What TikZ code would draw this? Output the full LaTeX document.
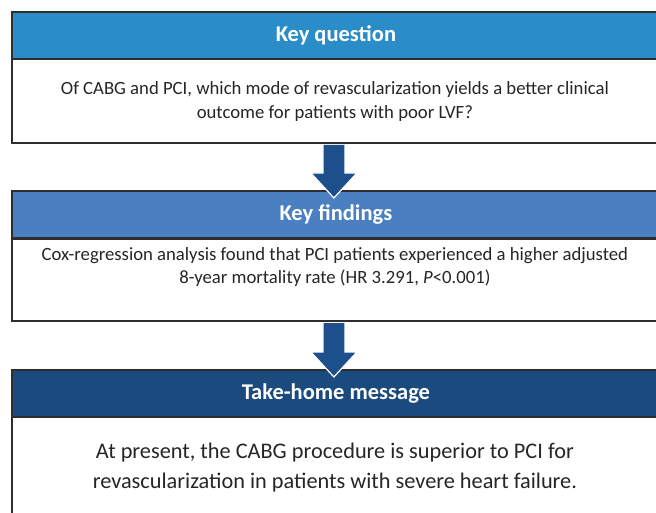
\documentclass[tikz,border=0pt]{standalone}
\usepackage{fontspec}
\setmainfont{Carlito}
\usetikzlibrary{calc}
\definecolor{hdrA}{HTML}{2B8DC8}
\definecolor{hdrB}{HTML}{4A80C2}
\definecolor{hdrC}{HTML}{1B4A7F}
\definecolor{arrowblue}{HTML}{1E4F8D}
\definecolor{frame}{HTML}{2E2E2E}
\begin{document}
\begin{tikzpicture}[x=1pt,y=-1pt,
  hdr/.style={draw=frame, line width=1.8pt, anchor=north west, minimum width=648pt,
    minimum height=47pt, inner sep=0pt, text=white, font=\fontsize{22.5}{24}\selectfont\bfseries},
  panel/.style={draw=frame, line width=1.8pt, anchor=north west, minimum width=648pt,
    inner sep=0pt, fill=white},
  bodytext/.style={align=center, inner sep=0pt, text=black!85},
  downarrow/.style={fill=arrowblue, draw=white, line width=1.2pt, line join=miter}]
\useasboundingbox (0,0) rectangle (656,513);
\clip (0,0) rectangle (656,513);

% first box: key question
\node[panel, minimum height=84pt] (b1) at (11,58) {};
\node[hdr, fill=hdrA] (h1) at (11,11) {Key question};
\node[bodytext, font=\fontsize{18.7}{24}\selectfont] (t1) at ($(b1.center)+(-1,1)$)
  {Of CABG and PCI, which mode of revascularization yields a better clinical\\
   outcome for patients with poor LVF?};

% second box: key findings
\node[panel, minimum height=82pt] (b2) at (11,238) {};
\node[hdr, fill=hdrB] (h2) at (11,190) {Key findings};
\node[bodytext, font=\fontsize{18.7}{23.5}\selectfont, anchor=north] (t2) at ($(b2.north)+(-1,9)$)
  {Cox-regression analysis found that PCI patients experienced a higher adjusted\\
   8-year mortality rate (HR 3.291, \textit{P}<0.001)};

% third box: take-home message
\node[panel, minimum height=120pt] (b3) at (11,416) {};
\node[hdr, fill=hdrC] (h3) at (11,369) {Take-home message};
\node[bodytext, font=\fontsize{22.3}{30}\selectfont, anchor=north] (t3) at ($(b3.north)+(-1,27)$)
  {At present, the CABG procedure is superior to PCI for\\
   revascularization in patients with severe heart failure.};

% connecting arrows
\coordinate (s1) at ($(b1.south)+(-2,1.2)$);
\coordinate (e1) at ($(h2.north)+(-2,8)$);
\coordinate (s2) at ($(b2.south)+(-2,1.2)$);
\coordinate (e2) at ($(h3.north)+(-2,8)$);
\foreach \s/\e in {s1/e1, s2/e2}{
  \filldraw[downarrow] ($(\s)+(-11,0)$) -- ($(\e)+(-11,-25)$) -- ($(\e)+(-23,-25)$)
    -- (\e) -- ($(\e)+(23,-25)$) -- ($(\e)+(11,-25)$) -- ($(\s)+(11,0)$);
}
\end{tikzpicture}
\end{document}
